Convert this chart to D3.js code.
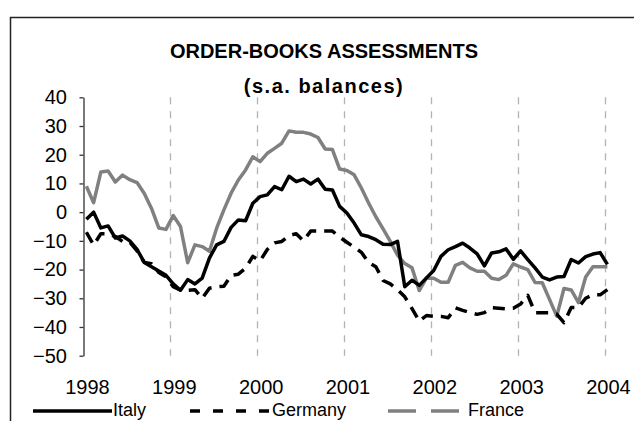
<!DOCTYPE html>
<html>
<head>
<meta charset="utf-8">
<script src="https://cdn.jsdelivr.net/npm/d3@7/dist/d3.min.js"></script>
<style>
  html, body { margin: 0; padding: 0; background: #fff; }
  svg { display: block; font-family: "Liberation Sans", Arial, sans-serif; }
</style>
</head>
<body>
<svg id="chart" width="634" height="421"></svg>
<script>
// ---- Data (monthly, Jan 1998 .. Jan 2004) ----
const years = [1998, 1999, 2000, 2001, 2002, 2003, 2004];
const yTicks = [40, 30, 20, 10, 0, -10, -20, -30, -40, -50];
const seriesNames = ["Italy", "Germany", "France"];

const italy = [
  -2.5, 0, -5.5, -4.8, -9, -8.3, -10, -13, -17.5, -19, -20.5, -22,
  -25, -27.2, -23.5, -25, -23, -16, -11.4, -10.2, -5.3, -2.7, -3, 3.1,
  5.4, 6, 8.9, 7.8, 12.5, 10.6, 11.5, 9.8, 11.5, 8, 7.7, 2,
  -0.3, -3.8, -7.9, -8.5, -9.6, -11.2, -11.3, -10.2, -26, -23.7, -25.5, -22.9,
  -20.3, -15.4, -13.1, -12, -10.8, -12.5, -14.5, -18.7, -14.2, -13.8, -12.8, -16.4,
  -13.5, -16.5, -19.4, -22.6, -23.6, -22.6, -22.4, -16.5, -17.7, -15.5, -14.6, -14.1,
  -18.2
];
const germany = [
  -7, -11.5, -7.5, -7.5, -8.5, -10.2, -10.5, -13.5, -17.5, -18, -21, -22.5,
  -26, -27.2, -27.2, -27, -30, -26.5, -26, -25.8, -22, -21.6, -19.5, -15.4,
  -17, -13, -10.7, -10.2, -8.2, -7.5, -10, -6.6, -6.6, -6.6, -6.6, -8.7,
  -10.5, -12.2, -14, -17.5, -19, -23.8, -25, -27, -29.5, -33.6, -38, -36,
  -36.3, -36.3, -36.8, -33.3, -34.2, -35, -35.6, -35, -33.3, -33.5, -33.7, -33.5,
  -32, -29, -35, -35, -35, -35.5, -38.5, -33.2, -33.2, -30, -28.8, -28.8,
  -27
];
const france = [
  9, 3.3, 14, 14.3, 10.5, 12.9, 11.3, 10.3, 6.5, 1.3, -5.5, -6,
  -1.2, -5, -17.6, -11.4, -12, -13.6, -5.6, 0.8, 6.6, 11.2, 14.7, 19.3,
  17.6, 20.5, 22.2, 24, 28.3, 27.8, 27.8, 27.2, 26, 22, 21.8, 15,
  14.5, 13, 8.4, 3.2, -1.6, -5.8, -10.2, -15, -17.9, -19.4, -27.3, -22.9,
  -23, -24.4, -24.4, -18.5, -17.5, -19.4, -20.6, -20.6, -23, -23.5, -22, -18,
  -19.1, -20, -24.5, -24.6, -30.4, -36.2, -26.6, -27.1, -31.5, -22.6, -19, -19,
  -19
];

// ---- Layout ----
const svg = d3.select("#chart");
const font = '"Liberation Sans", Arial, sans-serif';

// outer frame (cropped at right/bottom)
svg.append("path")
  .attr("d", "M10.5,440 L10.5,17.5 L650,17.5")
  .attr("fill", "none").attr("stroke", "#222").attr("stroke-width", 1.5);

// title
svg.append("text").attr("x", 324).attr("y", 58)
  .attr("text-anchor", "middle").attr("font-weight", "bold")
  .attr("font-size", 20).attr("fill", "#000")
  .text("ORDER-BOOKS ASSESSMENTS");
svg.append("text").attr("x", 324).attr("y", 93)
  .attr("text-anchor", "middle").attr("font-weight", "bold")
  .attr("font-size", 20).attr("letter-spacing", 1.5).attr("fill", "#000")
  .text("(s.a. balances)");

// scales
const x = d3.scaleLinear().domain([-0.4, 71.6]).range([83.5, 604.5]);
const y = d3.scaleLinear().domain([-50, 40]).range([355.7, 97.3]);
const yearX = d3.scaleLinear().domain([1998, 2004]).range([x(-0.4), x(71.6)]);

// vertical dashed gridlines at year boundaries
svg.append("g").selectAll("line")
  .data(years.slice(1))
  .join("line")
  .attr("x1", d => Math.round(yearX(d)) + 0.5)
  .attr("x2", d => Math.round(yearX(d)) + 0.5)
  .attr("y1", y(40)).attr("y2", y(-50))
  .attr("stroke", "#b3b3b3").attr("stroke-width", 1.3)
  .attr("stroke-dasharray", "7,7");

// y axis
const yAxis = svg.append("g")
  .attr("transform", "translate(83.5,0)")
  .call(d3.axisLeft(y).tickValues(yTicks).tickSize(4).tickSizeOuter(0).tickPadding(12.5));
yAxis.select(".domain").attr("stroke", "#333").attr("stroke-width", 1.3);
yAxis.selectAll(".tick line").attr("stroke", "#333").attr("stroke-width", 1.3);
yAxis.selectAll(".tick text").attr("font-size", 20).attr("font-family", font).attr("fill", "#000");

// x axis labels
const xAxis = svg.append("g")
  .attr("transform", "translate(0,356)")
  .call(d3.axisBottom(yearX).tickValues(years).tickFormat(d3.format("d")).tickSize(0).tickPadding(24));
xAxis.select(".domain").remove();
xAxis.selectAll(".tick text").attr("font-size", 20).attr("font-family", font)
  .attr("fill", "#000").attr("dx", 3.5);

// lines
const line = d3.line().x((d, i) => x(i)).y(d => y(d));
svg.append("path").datum(france).attr("d", line)
  .attr("fill", "none").attr("stroke", "#808080").attr("stroke-width", 3.5)
  .attr("stroke-linejoin", "round");
svg.append("path").datum(germany).attr("d", line)
  .attr("fill", "none").attr("stroke", "#000").attr("stroke-width", 3.5)
  .attr("stroke-dasharray", "12,8").attr("stroke-linejoin", "round");
svg.append("path").datum(italy).attr("d", line)
  .attr("fill", "none").attr("stroke", "#000").attr("stroke-width", 3.5)
  .attr("stroke-linejoin", "round");

// legend
const legend = svg.append("g");
const ly = 411;
const ty = 416;
legend.append("line").attr("x1", 33).attr("x2", 112).attr("y1", ly).attr("y2", ly)
  .attr("stroke", "#000").attr("stroke-width", 3.5);
legend.append("text").attr("x", 113).attr("y", ty).attr("font-size", 18).text(seriesNames[0]);
legend.append("line").attr("x1", 190).attr("x2", 270).attr("y1", ly).attr("y2", ly)
  .attr("stroke", "#000").attr("stroke-width", 3.5).attr("stroke-dasharray", "10,13");
legend.append("text").attr("x", 272).attr("y", ty).attr("font-size", 18).text(seriesNames[1]);
legend.append("line").attr("x1", 388).attr("x2", 461).attr("y1", ly).attr("y2", ly)
  .attr("stroke", "#808080").attr("stroke-width", 3.5).attr("stroke-dasharray", "28,15");
legend.append("text").attr("x", 468).attr("y", ty).attr("font-size", 18).text(seriesNames[2]);
</script>
</body>
</html>
